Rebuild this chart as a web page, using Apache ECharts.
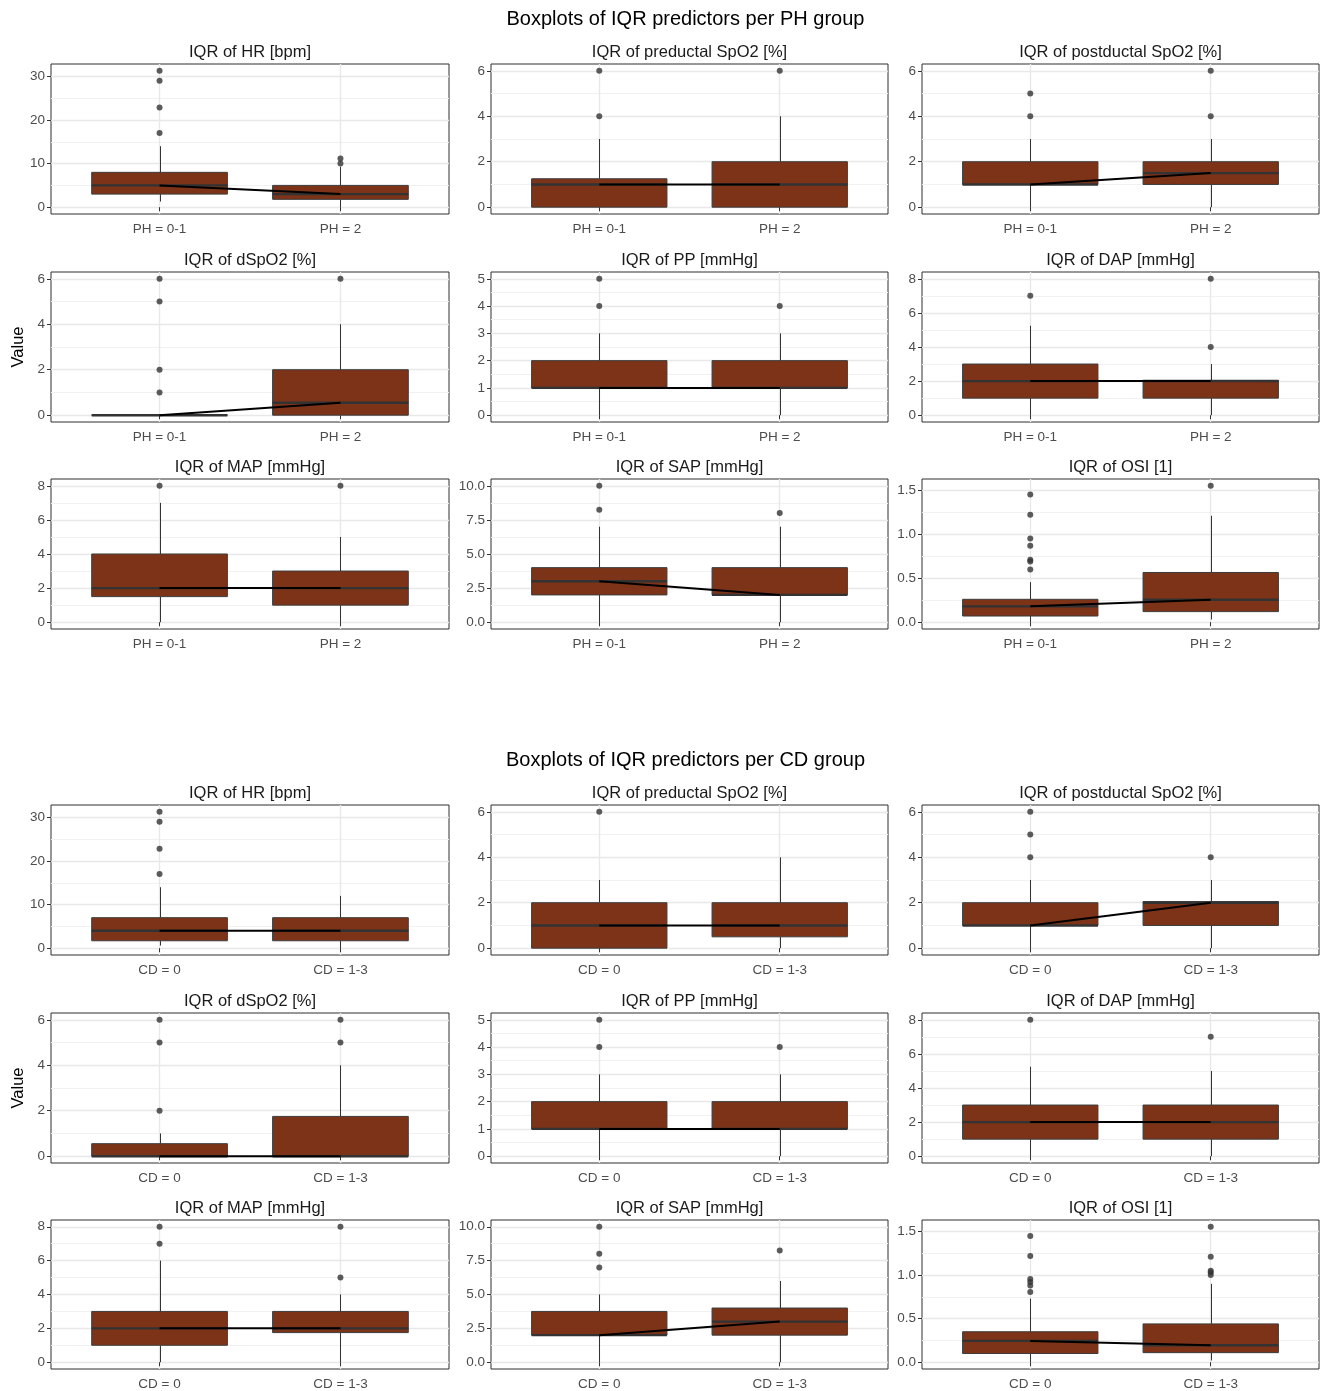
<!DOCTYPE html>
<html>
<head>
<meta charset="utf-8">
<script src="https://cdn.jsdelivr.net/npm/echarts@6/dist/echarts.min.js"></script>
<style>
  html, body { margin: 0; padding: 0; background: #ffffff; }
  #chart { width: 1325px; height: 1391px; }
</style>
</head>
<body>
<div id="chart"></div>
<script>
// ---- Groups -------------------------------------------------------------
const phGroups = ['PH = 0-1', 'PH = 2'];
const cdGroups = ['CD = 0', 'CD = 1-3'];

const sectionTitles = ['Boxplots of IQR predictors per PH group', 'Boxplots of IQR predictors per CD group'];

const panelTitles = [
  'IQR of HR [bpm]', 'IQR of preductal SpO2 [%]', 'IQR of postductal SpO2 [%]',
  'IQR of dSpO2 [%]', 'IQR of PP [mmHg]', 'IQR of DAP [mmHg]',
  'IQR of MAP [mmHg]', 'IQR of SAP [mmHg]', 'IQR of OSI [1]'
];

// ---- Y-axis breaks per variable (order of panelTitles) -------------------
const hrTicks = [0, 10, 20, 30];
const spo2Ticks = [0, 2, 4, 6];
const ppTicks = [0, 1, 2, 3, 4, 5];
const dapTicks = [0, 2, 4, 6, 8];
const mapTicks = [0, 2, 4, 6, 8];
const sapTicks = [0, 2.5, 5, 7.5, 10];
const osiTicks = [0, 0.5, 1, 1.5];
const yTicks = [hrTicks, spo2Ticks, spo2Ticks, spo2Ticks, ppTicks, dapTicks, mapTicks, sapTicks, osiTicks];
const yLabelDigits = [0, 0, 0, 0, 0, 0, 0, 1, 1];

// ---- Box statistics: [lower whisker, Q1, median, Q3, upper whisker] -------
// PH groups
const phHR     = [[1.3, 3, 5, 8, 14], [0, 1.8, 3, 5, 9.25]];
const phPre    = [[0, 0, 1, 1.25, 3], [0, 0, 1, 2, 4]];
const phPost   = [[0, 1, 1, 2, 3], [0, 1, 1.5, 2, 3]];
const phDSpO2  = [[0, 0, 0, 0, 0], [0, 0, 0.55, 2, 4]];
const phPP     = [[0, 1, 1, 2, 3], [0, 1, 1, 2, 3]];
const phDAP    = [[0, 1, 2, 3, 5.25], [0, 1, 2, 2.05, 3]];
const phMAP    = [[0, 1.5, 2, 4, 7], [0, 1, 2, 3, 5]];
const phSAP    = [[0, 2, 3, 4, 7], [0, 2, 2, 4, 7]];
const phOSI    = [[0, 0.07, 0.18, 0.26, 0.455], [0.03, 0.12, 0.255, 0.565, 1.21]];

const phHROut    = [[31.3, 29, 22.9, 17], [11.2, 10]];
const phPreOut   = [[6, 4], [6]];
const phPostOut  = [[5, 4], [6, 4]];
const phDSpO2Out = [[6, 5, 2, 1], [6]];
const phPPOut    = [[5, 4], [4]];
const phDAPOut   = [[7], [8, 4]];
const phMAPOut   = [[8], [8]];
const phSAPOut   = [[10, 8.25], [8]];
const phOSIOut   = [[1.45, 1.22, 0.95, 0.87, 0.71, 0.69, 0.6], [1.55]];

// CD groups
const cdHR     = [[0.6, 1.7, 4, 7, 14], [0, 1.7, 4, 7, 12]];
const cdPre    = [[0, 0, 1, 2, 3], [0, 0.5, 1, 2, 4]];
const cdPost   = [[0, 1, 1, 2, 3], [0, 1, 2, 2.05, 3]];
const cdDSpO2  = [[0, 0, 0, 0.55, 1], [0, 0, 0, 1.75, 4]];
const cdPP     = [[0, 1, 1, 2, 3], [0, 1, 1, 2, 3]];
const cdDAP    = [[0, 1, 2, 3, 5.25], [0, 1, 2, 3, 5]];
const cdMAP    = [[0, 1, 2, 3, 6], [0, 1.75, 2, 3, 4]];
const cdSAP    = [[0, 2, 2, 3.75, 5], [0, 2, 3, 4, 6]];
const cdOSI    = [[0, 0.1, 0.245, 0.35, 0.73], [0.02, 0.11, 0.195, 0.44, 0.9]];

const cdHROut    = [[31.3, 29, 22.8, 17], []];
const cdPreOut   = [[6], []];
const cdPostOut  = [[6, 5, 4], [4]];
const cdDSpO2Out = [[6, 5, 2], [6, 5]];
const cdPPOut    = [[5, 4], [4]];
const cdDAPOut   = [[8], [7]];
const cdMAPOut   = [[8, 7], [8, 5]];
const cdSAPOut   = [[10, 8, 7], [8.25]];
const cdOSIOut   = [[1.45, 1.22, 0.955, 0.92, 0.88, 0.805], [1.555, 1.21, 1.05, 1.03, 1.0]];

// ---- Layout -------------------------------------------------------------
const FONT = '"Liberation Sans", Arial, sans-serif';
const colLeft = [51, 491, 922];
const colWidth = [398, 397, 397];
const rowTop = [64, 272, 479, 805, 1013, 1220];
const panelHeight = 150;
const sectionTitleY = [19, 760];
const BOX_HALF = 0.375;          // half box width in x-units
const FILL = '#7D3318';
const DARK = '#333333';

const sections = [
  { groups: phGroups, rowOffset: 0,
    stats: [phHR, phPre, phPost, phDSpO2, phPP, phDAP, phMAP, phSAP, phOSI],
    outliers: [phHROut, phPreOut, phPostOut, phDSpO2Out, phPPOut, phDAPOut, phMAPOut, phSAPOut, phOSIOut] },
  { groups: cdGroups, rowOffset: 3,
    stats: [cdHR, cdPre, cdPost, cdDSpO2, cdPP, cdDAP, cdMAP, cdSAP, cdOSI],
    outliers: [cdHROut, cdPreOut, cdPostOut, cdDSpO2Out, cdPPOut, cdDAPOut, cdMAPOut, cdSAPOut, cdOSIOut] }
];

// Box, whiskers and median bar for one group
function renderBox(params, api) {
  const x = api.value(0);
  const lo = api.value(1), q1 = api.value(2), med = api.value(3), q3 = api.value(4), hi = api.value(5);
  const tl = api.coord([x - BOX_HALF, q3]);
  const br = api.coord([x + BOX_HALF, q1]);
  const mL = api.coord([x - BOX_HALF, med]);
  const mR = api.coord([x + BOX_HALF, med]);
  const pHi = api.coord([x, hi]), pQ3 = api.coord([x, q3]);
  const pLo = api.coord([x, lo]), pQ1 = api.coord([x, q1]);
  const cx = Math.round(pHi[0]) + 0.5;
  return {
    type: 'group',
    children: [
      { type: 'line', shape: { x1: cx, y1: pHi[1], x2: cx, y2: pQ3[1] }, style: { stroke: DARK, lineWidth: 1 } },
      { type: 'line', shape: { x1: cx, y1: pLo[1], x2: cx, y2: pQ1[1] }, style: { stroke: DARK, lineWidth: 1 } },
      { type: 'rect', shape: { x: tl[0], y: tl[1], width: br[0] - tl[0], height: br[1] - tl[1] },
        style: { fill: FILL, stroke: '#3c3c3c', lineWidth: 1 } },
      { type: 'line', shape: { x1: mL[0], y1: mL[1], x2: mR[0], y2: mR[1] }, style: { stroke: DARK, lineWidth: 2.4 } }
    ]
  };
}

const grids = [], xAxes = [], yAxes = [], series = [], graphics = [];

sectionTitles.forEach((t, s) => {
  graphics.push({
    type: 'text', x: 685.5, y: sectionTitleY[s],
    style: { text: t, font: '20px ' + FONT, fill: '#000', textAlign: 'center', textVerticalAlign: 'middle' }
  });
});

sections.forEach((sec) => {
  sec.stats.forEach((stats, v) => {
    const gi = grids.length;
    const row = sec.rowOffset + Math.floor(v / 3);
    const col = v % 3;
    const left = colLeft[col], top = rowTop[row], width = colWidth[col];

    grids.push({ left, top, width, height: panelHeight, show: true, borderColor: '#2e2e2e', borderWidth: 1,
                 backgroundColor: 'transparent' });

    graphics.push({
      type: 'text', x: left + width / 2, y: top - 12,
      style: { text: panelTitles[v], font: '16.5px ' + FONT, fill: '#1a1a1a', textAlign: 'center', textVerticalAlign: 'middle' }
    });

    // y range: data extent expanded by 5% on both sides
    const outs = sec.outliers[v];
    const allVals = [].concat(...stats, ...outs);
    const dMin = Math.min(...allVals), dMax = Math.max(...allVals);
    const pad = (dMax - dMin) * 0.05;
    const yMin = dMin - pad, yMax = dMax + pad;

    const ticks = yTicks[v];
    const minor = [];
    for (let k = 0; k < ticks.length - 1; k++) minor.push((ticks[k] + ticks[k + 1]) / 2);
    const digits = yLabelDigits[v];
    const groups = sec.groups;

    xAxes.push({
      type: 'value', gridIndex: gi, min: 0.4, max: 2.6,
      axisLine: { show: false },
      axisTick: { show: true, length: 4, lineStyle: { color: DARK, width: 1 }, customValues: [1, 2] },
      axisLabel: { customValues: [1, 2], formatter: (val) => groups[Math.round(val) - 1],
                   color: '#4d4d4d', fontSize: 13.5, fontFamily: FONT, margin: 8 },
      splitLine: { show: true, lineStyle: { color: '#e8e8e8', width: 1.4 } }
    });

    const showName = (v === 3);
    yAxes.push({
      type: 'value', gridIndex: gi, min: yMin, max: yMax, position: 'left',
      axisLine: { show: false },
      axisTick: { show: true, length: 4, lineStyle: { color: DARK, width: 1 }, customValues: ticks },
      axisLabel: { customValues: ticks, formatter: (val) => val.toFixed(digits),
                   color: '#4d4d4d', fontSize: 13.5, fontFamily: FONT, margin: 6 },
      splitLine: { show: true, lineStyle: { color: '#e8e8e8', width: 1.4 } },
      name: showName ? 'Value' : '',
      nameLocation: 'middle', nameGap: 24, nameRotate: 90,
      nameTextStyle: { fontSize: 16.5, color: '#000', fontFamily: FONT }
    });
    // companion axis carrying the minor grid lines
    yAxes.push({
      type: 'value', gridIndex: gi, min: yMin, max: yMax, position: 'left',
      axisLine: { show: false },
      axisTick: { show: false, customValues: minor },
      axisLabel: { show: false },
      splitLine: { show: true, lineStyle: { color: '#f1f1f1', width: 1 } }
    });
    const yi = yAxes.length - 2;

    series.push({
      type: 'custom', xAxisIndex: gi, yAxisIndex: yi, z: 2,
      renderItem: renderBox,
      data: stats.map((st, k) => [k + 1].concat(st))
    });

    const outData = [];
    outs.forEach((list, k) => list.forEach((val) => outData.push([k + 1, val])));
    series.push({
      type: 'scatter', xAxisIndex: gi, yAxisIndex: yi, z: 3,
      symbol: 'circle', symbolSize: 6, itemStyle: { color: DARK },
      data: outData
    });

    // black line joining the two group medians
    series.push({
      type: 'line', xAxisIndex: gi, yAxisIndex: yi, z: 4,
      symbol: 'none', lineStyle: { color: '#000', width: 2 },
      data: stats.map((st, k) => [k + 1, st[2]])
    });
  });
});

const chart = echarts.init(document.getElementById('chart'), null, { renderer: 'canvas' });
chart.setOption({
  backgroundColor: '#ffffff',
  animation: false,
  textStyle: { fontFamily: FONT },
  grid: grids,
  xAxis: xAxes,
  yAxis: yAxes,
  series: series,
  graphic: graphics
});
</script>
</body>
</html>
